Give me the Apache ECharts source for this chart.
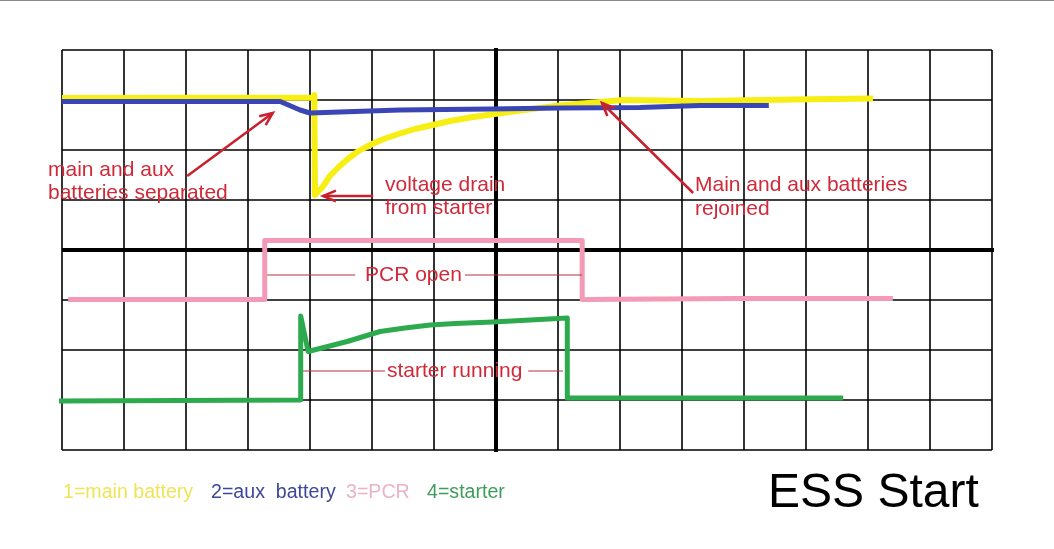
<!DOCTYPE html>
<html><head><meta charset="utf-8">
<script src="https://cdn.jsdelivr.net/npm/echarts@6/dist/echarts.min.js"></script>
<style>html,body{margin:0;padding:0;background:#fff}#c{width:1054px;height:549px}</style>
</head><body><div id="c"></div>
<script>
// ---- data (grid units: x 0..15, y 0..8) ----
const xRange = [0, 15];
const yRange = [0, 8];
const mainBattery = [[0,7.04],[4.06,7.05],[4.07,7.1],[4.08,5.1],[4.21,5.27],[4.32,5.48],[4.48,5.68],[4.61,5.82],[4.76,5.96],[4.89,6.05],[5.02,6.13],[5.21,6.23],[5.45,6.33],[5.69,6.42],[5.98,6.5],[6.26,6.58],[6.63,6.66],[6.98,6.72],[7.39,6.79],[8.03,6.89],[8.68,6.96],[9.05,7.0],[10.29,6.98],[11.79,7.01],[13.08,7.03]];
const auxBattery = [[0,6.97],[3.52,6.97],[3.84,6.8],[4.0,6.74],[4.48,6.76],[5.45,6.8],[6.9,6.82],[8.03,6.84],[9.32,6.85],[10.29,6.89],[11.4,6.89]];
const pcr = [[0.1,3.01],[3.27,3.01],[3.27,4.19],[8.39,4.19],[8.39,3.01],[10.89,3.03],[13.4,3.03]];
const starter = [[-0.06,0.98],[1.9,0.99],[3.85,1.0],[3.85,2.68],[3.97,1.97],[4.6,2.17],[5.13,2.37],[5.53,2.44],[5.94,2.5],[6.34,2.53],[6.95,2.56],[7.55,2.6],[8.15,2.64],[8.15,1.04],[12.6,1.04]];
const boldV = [[7,-0.04],[7,8.04]];
const boldH = [[0,4],[15.1,4]];
// annotation arrows: tail -> head (data coords)
const arrows = [
  {from:[2.02,5.48], to:[3.40,6.74]},
  {from:[5.02,5.08], to:[4.21,5.08]},
  {from:[10.18,5.14], to:[8.71,6.94]}
];
// thin label leader lines (data coords)
const leaders = [
  [[3.31,3.5],[4.73,3.5]], [[6.5,3.5],[8.39,3.5]],
  [[3.89,1.58],[5.21,1.58]], [[7.52,1.58],[8.08,1.58]]
];
const legendTexts = [
  {t:'1=main battery', c:'#efe457', x:63},
  {t:'2=aux  battery', c:'#3d4896', x:211},
  {t:'3=PCR', c:'#ecb2c7', x:346},
  {t:'4=starter', c:'#3e9c5c', x:427}
];
const notes = [
  {t:'main and aux', x:48, y:170},
  {t:'batteries separated', x:48, y:193},
  {t:'voltage drain', x:385, y:185},
  {t:'from starter', x:385, y:208},
  {t:'Main and aux batteries', x:695, y:185},
  {t:'rejoined', x:695, y:209},
  {t:'PCR open', x:365, y:275},
  {t:'starter running', x:387, y:371}
];

const RED = '#d02a3a';
const FONT = '"Liberation Sans", Arial, sans-serif';
const chart = echarts.init(document.getElementById('c'), null, {renderer:'canvas'});

function line(name, data, color, width, z) {
  return {name, type:'line', data, showSymbol:false, symbol:'none', clip:false, z,
    lineStyle:{color, width, cap:'butt', join:'round'}, animation:false, silent:true};
}

const series = [
  line('boldV', boldV, '#000', 4, 2),
  line('boldH', boldH, '#000', 4, 2),
  line('1=main battery', mainBattery, '#f7ee14', 6, 3),
  line('2=aux battery', auxBattery, '#3b46b6', 5, 4),
  line('3=PCR', pcr, '#f39ab6', 5, 3),
  line('4=starter', starter, '#2daa4e', 5, 3)
];
leaders.forEach((l,i)=>series.push(line('lead'+i, l, '#b8303c', 1, 5)));
arrows.forEach((a,i)=>series.push(line('arrow'+i, [a.from, a.to], '#c8202e', 2.5, 5)));

chart.setOption({
  animation:false,
  backgroundColor:'#fff',
  grid:{left:62, top:50, width:930, height:400, containLabel:false},
  xAxis:{type:'value', min:xRange[0], max:xRange[1], interval:1,
    axisLine:{show:false}, axisTick:{show:false}, axisLabel:{show:false},
    splitLine:{show:true, showMinLine:true, showMaxLine:true, lineStyle:{color:'#000', width:1.6}}},
  yAxis:{type:'value', min:yRange[0], max:yRange[1], interval:1,
    axisLine:{show:false}, axisTick:{show:false}, axisLabel:{show:false},
    splitLine:{show:true, showMinLine:true, showMaxLine:true, lineStyle:{color:'#000', width:1.6}}},
  series
});

// graphics: texts + arrowheads
const g = [];
g.push({type:'rect', shape:{x:0,y:0,width:1054,height:1}, style:{fill:'#8a8a8a'}, silent:true});
notes.forEach(n=>g.push({type:'text', silent:true, z:10, style:{text:n.t, x:n.x, y:n.y, font:'21px '+FONT, fill:RED, textAlign:'left', textVerticalAlign:'middle', align:'left', verticalAlign:'middle'}}));
legendTexts.forEach(n=>g.push({type:'text', silent:true, z:10, style:{text:n.t, x:n.x, y:493, font:'19.6px '+FONT, fill:n.c, textAlign:'left', textVerticalAlign:'middle', align:'left', verticalAlign:'middle'}}));
g.push({type:'text', silent:true, z:10, style:{text:'ESS Start', x:768, y:494, font:'48px '+FONT, fill:'#000', textAlign:'left', textVerticalAlign:'middle', align:'left', verticalAlign:'middle'}});
arrows.forEach(a=>{
  const p0 = chart.convertToPixel({gridIndex:0}, a.from);
  const p1 = chart.convertToPixel({gridIndex:0}, a.to);
  const dx = p1[0]-p0[0], dy = p1[1]-p0[1];
  const L = Math.hypot(dx,dy), ux = dx/L, uy = dy/L;
  const len = 14, ang = 0.4;
  const w = s => [p1[0] - len*(ux*Math.cos(ang) - s*uy*Math.sin(ang)), p1[1] - len*(uy*Math.cos(ang) + s*ux*Math.sin(ang))];
  g.push({type:'polyline', silent:true, z:10, shape:{points:[w(1), p1, w(-1)]}, style:{stroke:'#c8202e', lineWidth:2.5, fill:null}});
});
chart.setOption({graphic:g});
</script>
</body></html>
